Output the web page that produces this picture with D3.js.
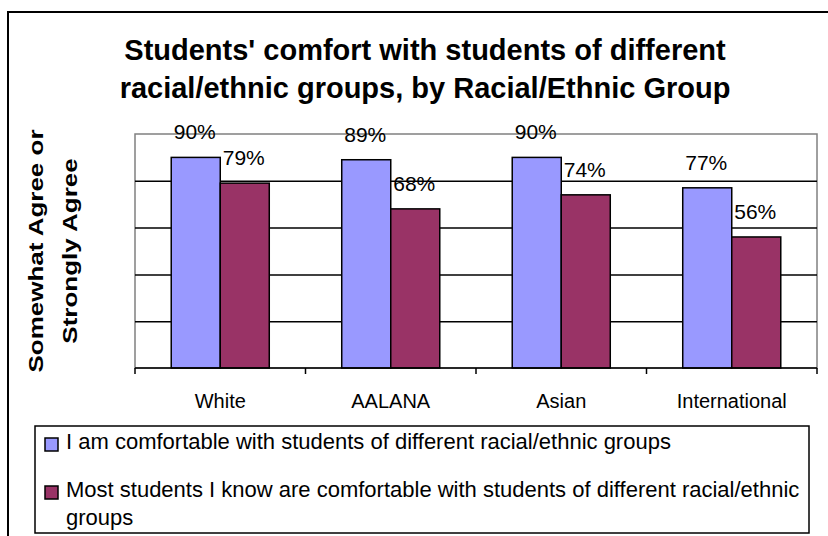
<!DOCTYPE html>
<html lang="en">
<head>
  <meta charset='utf-8'>
  <title>Students' comfort with students of different racial/ethnic groups</title>
  <style>
     body { margin: 0; background: #fff; }
     svg { display: block; font-family: "Liberation Sans", Arial, sans-serif; }
  </style>
</head>
<body>
  <div id="d3-container"></div>

<script src="https://cdn.jsdelivr.net/npm/d3@7"></script>
<script>
    ////////////////////////////////////////////////// DATA
    var categories    = ["White", "AALANA", "Asian", "International"];
    var seriesNames   = ["I am comfortable with students of different racial/ethnic groups",
                         "Most students I know are comfortable with students of different racial/ethnic groups"];
    var selfComfort   = [0.90, 0.89, 0.90, 0.77];
    var othersComfort = [0.79, 0.68, 0.74, 0.56];
    var gridTicks     = [0.2, 0.4, 0.6, 0.8];
    var titleLines    = ["Students' comfort with students of different",
                         "racial/ethnic groups, by Racial/Ethnic Group"];
    var yLabelLines   = ["Somewhat Agree or", "Strongly Agree"];

    ////////////////////////////////////////////////// INIT
    var plotWidth  = 828;
    var plotHeight = 536;
    var colors = ["#9999FF", "#993366"];
    var values = [selfComfort, othersComfort];

    var margin = {left: 135, right: 11, top: 134, bottom: 168};

    var svg = d3.select("#d3-container").append("svg")
        .attr("width", plotWidth)
        .attr("height", plotHeight);

    // outer chart border (runs off the right/bottom edge)
    svg.append("rect")
        .attr("x", 8).attr("y", 12)
        .attr("width", 900).attr("height", 600)
        .attr("fill", "none")
        .attr("stroke", "#000")
        .attr("stroke-width", 2);

    ////////////////////////////////////////////////// SCALES
    var x = d3.scaleBand()
        .domain(categories)
        .range([margin.left, plotWidth - margin.right]);

    var y = d3.scaleLinear()
        .domain([0, 1])
        .range([plotHeight - margin.bottom, margin.top]);

    var barW = x.bandwidth() * 0.2875;

    ////////////////////////////////////////////////// TITLE
    svg.append("g")
        .attr("font-size", 29)
        .attr("font-weight", "bold")
        .attr("text-anchor", "middle")
        .selectAll("text")
        .data(titleLines)
        .join("text")
        .attr("x", 425)
        .attr("y", (d, i) => 60 + i * 38)
        .text(d => d);

    ////////////////////////////////////////////////// PLOT AREA
    // grey frame
    svg.append("rect")
        .attr("x", x.range()[0]).attr("y", y(1))
        .attr("width", x.range()[1] - x.range()[0])
        .attr("height", y(0) - y(1))
        .attr("fill", "none")
        .attr("stroke", "#808080")
        .attr("stroke-width", 1.5);

    // gridlines
    svg.append("g")
        .attr("transform", `translate(${x.range()[0]},0)`)
        .call(d3.axisLeft(y).tickValues(gridTicks).tickSize(-(x.range()[1] - x.range()[0])).tickFormat(""))
        .call(g => g.select(".domain").remove())
        .call(g => g.selectAll(".tick line").attr("stroke", "#000").attr("stroke-width", 1.5));

    // bars
    values.forEach(function(vals, s) {
        svg.append("g")
            .selectAll("rect")
            .data(categories)
            .join("rect")
            .attr("x", (d, i) => x(d) + x.bandwidth() / 2 - barW + s * barW)
            .attr("y", (d, i) => y(vals[i]))
            .attr("width", barW)
            .attr("height", (d, i) => y(0) - y(vals[i]))
            .attr("fill", colors[s])
            .attr("stroke", "#000")
            .attr("stroke-width", 1.5);

        svg.append("g")
            .attr("font-size", 21)
            .attr("text-anchor", "middle")
            .selectAll("text")
            .data(categories)
            .join("text")
            .attr("x", (d, i) => x(d) + x.bandwidth() / 2 - barW / 2 + s * barW - 1)
            .attr("y", (d, i) => y(vals[i]) - 18)
            .text((d, i) => d3.format(".0%")(vals[i]));
    });

    // x axis: line, boundary ticks, labels
    var xAxis = svg.append("g");
    xAxis.append("line")
        .attr("x1", x.range()[0]).attr("x2", x.range()[1])
        .attr("y1", y(0)).attr("y2", y(0))
        .attr("stroke", "#000").attr("stroke-width", 1.5);

    xAxis.selectAll(".tk")
        .data(categories.map(c => x(c)).concat([x.range()[1]]))
        .join("line")
        .attr("class", "tk")
        .attr("x1", d => d).attr("x2", d => d)
        .attr("y1", y(0)).attr("y2", y(0) + 6)
        .attr("stroke", "#000").attr("stroke-width", 1.5);

    xAxis.selectAll("text")
        .data(categories)
        .join("text")
        .attr("x", d => x(d) + x.bandwidth() / 2)
        .attr("y", 408)
        .attr("font-size", 20)
        .attr("text-anchor", "middle")
        .text(d => d);

    // y axis title, two lines
    var yMid = (y(0) + y(1)) / 2;
    svg.append("g")
        .attr("font-size", 26)
        .attr("font-weight", "bold")
        .attr("text-anchor", "middle")
        .selectAll("text")
        .data(yLabelLines)
        .join("text")
        .attr("transform", (d, i) => `translate(${43 + i * 34},${yMid}) rotate(-90) scale(1,0.8)`)
        .text(d => d);

    ////////////////////////////////////////////////// LEGEND
    var legend = svg.append("g");
    legend.append("rect")
        .attr("x", 35).attr("y", 426)
        .attr("width", 774).attr("height", 107)
        .attr("fill", "#fff")
        .attr("stroke", "#000")
        .attr("stroke-width", 1.5);

    var legendRows = [[seriesNames[0]], [
        "Most students I know are comfortable with students of different racial/ethnic",
        "groups"]];
    var legendY = [449, 497];

    legendRows.forEach(function(lines, s) {
        legend.append("rect")
            .attr("x", 45).attr("y", legendY[s] - 11)
            .attr("width", 13).attr("height", 13)
            .attr("fill", colors[s])
            .attr("stroke", "#000")
            .attr("stroke-width", 1.5);

        legend.append("g")
            .attr("font-size", 22)
            .selectAll("text")
            .data(lines)
            .join("text")
            .attr("x", 66)
            .attr("y", (d, i) => legendY[s] + i * 28)
            .text(d => d);
    });
</script>
</body>
</html>
